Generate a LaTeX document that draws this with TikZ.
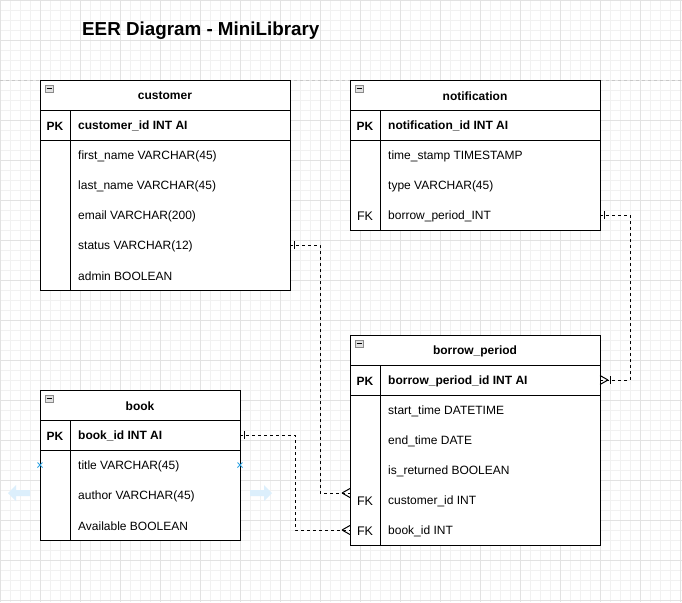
\documentclass[tikz,border=0pt]{standalone}
\usepackage{fontspec}
\setmainfont{Liberation Sans}
\definecolor{gridminor}{HTML}{F1F1F1}
\definecolor{gridmajor}{HTML}{E2E2E2}
\definecolor{pageline}{HTML}{C8C8C8}
\definecolor{hoverblue}{HTML}{DCEFFC}
\definecolor{markblue}{HTML}{2EA3E3}
\definecolor{iconfill}{HTML}{E2E2E2}
\definecolor{iconline}{HTML}{8A8A8A}
\begin{document}
\begin{tikzpicture}[x=1pt,y=-1pt,
  tbl/.style={draw, line width=1pt, inner sep=0pt, anchor=north west, fill=white},
  hdr/.style={font=\bfseries\fontsize{12}{14}\selectfont, inner sep=0pt, yshift=-1pt},
  fld/.style={font=\fontsize{12}{14}\selectfont, anchor=west, inner sep=0pt, yshift=-1pt},
  pkf/.style={font=\bfseries\fontsize{12}{14}\selectfont, anchor=west, inner sep=0pt, yshift=-1pt},
  keyb/.style={font=\bfseries\fontsize{12}{14}\selectfont, inner sep=0pt, yshift=-1pt},
  keyn/.style={font=\fontsize{12.5}{14}\selectfont, inner sep=0pt, yshift=-1pt},
  sep/.style={line width=1pt},
  conn/.style={line width=1pt, dash pattern=on 3pt off 3pt},
  endmark/.style={line width=1pt},
  icon/.style={draw=iconline, fill=iconfill, line width=0.6pt}
]
\useasboundingbox (0,0) rectangle (682,602);
\fill[white] (0,0) rectangle (682,602);
% grid
\foreach \i in {0,10,...,680} {\draw[gridminor, line width=0.8pt] (\i,0) -- (\i,602);}
\foreach \j in {0,10,...,600} {\draw[gridminor, line width=0.8pt] (0,\j) -- (682,\j);}
\foreach \i in {0,40,...,680} {\draw[gridmajor, line width=0.8pt] (\i,0) -- (\i,602);}
\foreach \j in {0,40,...,600} {\draw[gridmajor, line width=0.8pt] (0,\j) -- (682,\j);}
% page break line
\draw[pageline, line width=0.8pt, dash pattern=on 3pt off 3pt] (0,80) -- (682,80);

% title
\node[font=\bfseries\fontsize{18.8}{22}\selectfont, inner sep=0pt, anchor=west] (title) at (82,31) {EER Diagram - MiniLibrary};

% ---------- customer ----------
\node[tbl, minimum width=250pt, minimum height=210pt] (customer) at (40,80) {};
\draw[sep] (40,110) -- (290,110);
\draw[sep] (40,140) -- (290,140);
\draw[sep] (70,110) -- (70,290);
\draw[icon] (45,85) rectangle (53,92);
\draw[line width=0.8pt] (46.5,88.5) -- (51.5,88.5);
\node[hdr] (customerh) at (165,95) {customer};
\node[keyb] (customerpk) at (55,125) {PK};
\node[pkf] (cid) at (78,125) {customer\_id INT AI};
\node[fld] (cfirst) at (78,155) {first\_name VARCHAR(45)};
\node[fld] (clast) at (78,185) {last\_name VARCHAR(45)};
\node[fld] (cemail) at (78,215) {email VARCHAR(200)};
\node[fld] (cstatus) at (78,245) {status VARCHAR(12)};
\node[fld] (cadmin) at (78,275) {admin BOOLEAN};

% ---------- notification ----------
\node[tbl, minimum width=250pt, minimum height=150pt] (notification) at (350,80) {};
\draw[sep] (350,110) -- (600,110);
\draw[sep] (350,140) -- (600,140);
\draw[sep] (380,110) -- (380,230);
\draw[icon] (355,85) rectangle (363,92);
\draw[line width=0.8pt] (356.5,88.5) -- (361.5,88.5);
\node[hdr] (notificationh) at (475,95) {notification};
\node[keyb] (notificationpk) at (365,125) {PK};
\node[pkf] (nid) at (388,125) {notification\_id INT AI};
\node[fld] (ntime) at (388,155) {time\_stamp TIMESTAMP};
\node[fld] (ntype) at (388,185) {type VARCHAR(45)};
\node[keyn] (nfk) at (365,215) {FK};
\node[fld] (nbp) at (388,215) {borrow\_period\_INT};

% ---------- borrow_period ----------
\node[tbl, minimum width=250pt, minimum height=210pt] (borrow) at (350,335) {};
\draw[sep] (350,365) -- (600,365);
\draw[sep] (350,395) -- (600,395);
\draw[sep] (380,365) -- (380,545);
\draw[icon] (355,340) rectangle (363,347);
\draw[line width=0.8pt] (356.5,343.5) -- (361.5,343.5);
\node[hdr] (borrowh) at (475,350) {borrow\_period};
\node[keyb] (borrowpk) at (365,380) {PK};
\node[pkf] (bid) at (388,380) {borrow\_period\_id INT AI};
\node[fld] (bstart) at (388,410) {start\_time DATETIME};
\node[fld] (bend) at (388,440) {end\_time DATE};
\node[fld] (bret) at (388,470) {is\_returned BOOLEAN};
\node[keyn] (bfk1) at (365,500) {FK};
\node[fld] (bcust) at (388,500) {customer\_id INT};
\node[keyn] (bfk2) at (365,530) {FK};
\node[fld] (bbook) at (388,530) {book\_id INT};

% ---------- book ----------
\node[tbl, minimum width=200pt, minimum height=150pt] (book) at (40,390) {};
\draw[sep] (40,420) -- (240,420);
\draw[sep] (40,450) -- (240,450);
\draw[sep] (70,420) -- (70,540);
\draw[icon] (45,395) rectangle (53,402);
\draw[line width=0.8pt] (46.5,398.5) -- (51.5,398.5);
\node[hdr] (bookh) at (140,405) {book};
\node[keyb] (bookpk) at (55,435) {PK};
\node[pkf] (kid) at (78,435) {book\_id INT AI};
\node[fld] (ktitle) at (78,465) {title VARCHAR(45)};
\node[fld] (kauthor) at (78,495) {author VARCHAR(45)};
\node[fld] (kavail) at (78,525) {Available BOOLEAN};

% ---------- connector end points ----------
\coordinate (s1) at (290,245);
\coordinate (t1) at (350,493);
\coordinate (s2) at (240,435);
\coordinate (t2) at (350,530);
\coordinate (s3) at (600,215);
\coordinate (t3) at (600,380);

% customer -> borrow_period.customer_id
\draw[conn] (s1) -- (320,245) -- (320,493) -- (t1);
\draw[endmark] (s1) ++(4,-4) -- ++(0,8);
\draw[endmark] (t1) ++(-8,0) -- ++(8,-4.5) (t1) ++(-8,0) -- ++(8,4.5);

% book -> borrow_period.book_id
\draw[conn] (s2) -- (295,435) -- (295,530) -- (t2);
\draw[endmark] (s2) ++(4,-4) -- ++(0,8);
\draw[endmark] (t2) ++(-8,0) -- ++(8,-4.5) (t2) ++(-8,0) -- ++(8,4.5);

% notification -> borrow_period.borrow_period_id
\draw[conn] (s3) -- (630,215) -- (630,380) -- (t3);
\draw[endmark] (s3) ++(4,-4) -- ++(0,8);
\draw[endmark] (t3) ++(8,0) -- ++(-8,-4.5) (t3) ++(8,0) -- ++(-8,4.5);
\draw[endmark] (t3) ++(10,-4) -- ++(0,8);

% hover artifacts
\fill[hoverblue] (8,493) -- (16,485) -- (16,490) -- (30,490) -- (30,496) -- (16,496) -- (16,501) -- cycle;
\fill[hoverblue] (272,493) -- (264,485) -- (264,490) -- (250,490) -- (250,496) -- (264,496) -- (264,501) -- cycle;
\draw[markblue, line width=0.9pt] (37.5,462.5) -- (42.5,467.5) (37.5,467.5) -- (42.5,462.5);
\draw[markblue, line width=0.9pt] (237.5,462.5) -- (242.5,467.5) (237.5,467.5) -- (242.5,462.5);
\end{tikzpicture}
\end{document}
